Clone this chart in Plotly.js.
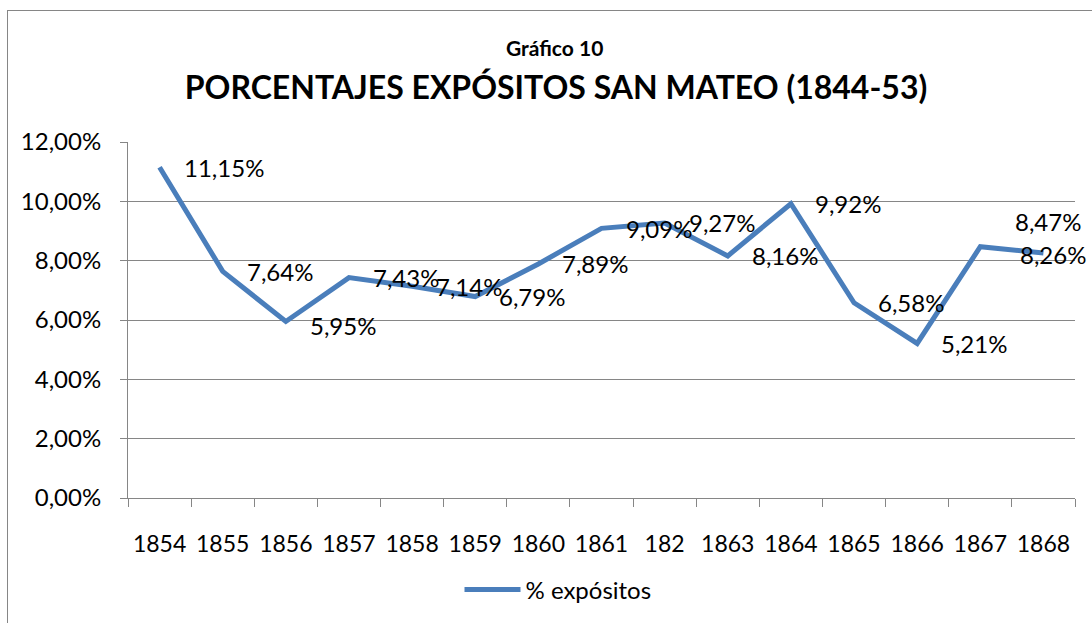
<!DOCTYPE html>
<html>
<head>
<meta charset="utf-8">
<script src="https://cdn.plot.ly/plotly-3.0.1.min.js"></script>
<style>
html,body{margin:0;padding:0;background:#fff;}
#chart{width:1092px;height:623px;}
#frame{position:absolute;left:7px;top:10px;width:1200px;height:700px;border:1px solid #868686;pointer-events:none;}
</style>
</head>
<body>
<div id="chart"></div>
<div id="frame"></div>
<script>
const years = ["1854","1855","1856","1857","1858","1859","1860","1861","182","1863","1864","1865","1866","1867","1868"];
const pctExpositos = [0.1115,0.0764,0.0595,0.0743,0.0714,0.0679,0.0789,0.0909,0.0927,0.0816,0.0992,0.0658,0.0521,0.0847,0.0826];
const seriesName = "% expósitos";
const subTitle = "Gráfico 10";
const mainTitle = "PORCENTAJES EXPÓSITOS SAN MATEO (1844-53)";

const FONT = "Lato, 'Open Sans', sans-serif";
const grid = "#868686";

// label offsets (px) relative to each point: default right of point
const labelShiftX = years.map((_, i) => i === 13 ? 33 : (i === 14 ? -25 : 22));
const labelShiftY = years.map((_, i) => i === 13 ? 25 : (i === 14 ? -2 : (i === 2 ? -4 : 0)));

function fmtPct(v) {
  return (v * 100).toFixed(2).replace(".", ",") + "%";
}

const trace = {
  type: "scatter",
  mode: "lines",
  x: years,
  y: pctExpositos,
  name: seriesName,
  line: {color: "#4A7EBB", width: 5},
  hoverinfo: "skip"
};

// category axis: annotation x given as category index
const labelAnnotations = years.map((yr, i) => ({
  x: i, y: pctExpositos[i],
  xref: "x", yref: "y",
  text: fmtPct(pctExpositos[i]),
  showarrow: false,
  xanchor: "left", yanchor: "middle",
  xshift: labelShiftX[i], yshift: labelShiftY[i],
  font: {family: FONT, size: 24, color: "#000"}
}));

const layout = {
  width: 1092, height: 623,
  separators: ",.",
  paper_bgcolor: "#fff", plot_bgcolor: "#fff",
  margin: {l: 128, r: 17, t: 142, b: 124},
  font: {family: FONT, color: "#000"},
  title: {
    text: "<b>" + mainTitle + "</b>",
    font: {family: FONT, size: 32, color: "#000"},
    x: 556/1092, xanchor: "center", xref: "container",
    y: 1 - 88/623, yanchor: "middle", yref: "container"
  },
  annotations: [{
    text: "<b>" + subTitle + "</b>",
    xref: "paper", yref: "paper",
    x: (554-128)/947, y: 1 + (142-47)/357,
    xanchor: "center", yanchor: "middle",
    showarrow: false,
    font: {family: FONT, size: 21, color: "#000"}
  }].concat(labelAnnotations),
  xaxis: {
    type: "category",
    range: [-0.5, 14.5],
    showgrid: false,
    showline: true, linecolor: grid, linewidth: 1,
    ticks: "outside", tickson: "boundaries", ticklen: 8, tickcolor: grid,
    tickfont: {family: FONT, size: 23, color: "#000"},
    ticklabelstandoff: 25,
    fixedrange: true
  },
  yaxis: {
    range: [0, 0.12],
    dtick: 0.02,
    tickformat: ".2%",
    showgrid: true, gridcolor: grid, gridwidth: 1,
    showline: true, linecolor: grid, linewidth: 1,
    zeroline: false,
    ticks: "outside", ticklen: 7, tickcolor: grid,
    tickfont: {family: FONT, size: 24, color: "#000"},
    ticklabelstandoff: 14,
    fixedrange: true
  },
  showlegend: true,
  legend: {
    orientation: "h",
    x: (558-128)/947, xanchor: "center",
    y: (499-590)/357, yanchor: "middle",
    font: {family: FONT, size: 24, color: "#000"},
    itemwidth: 56
  }
};

Plotly.newPlot("chart", [trace], layout, {displayModeBar: false, staticPlot: true});
</script>
</body>
</html>
